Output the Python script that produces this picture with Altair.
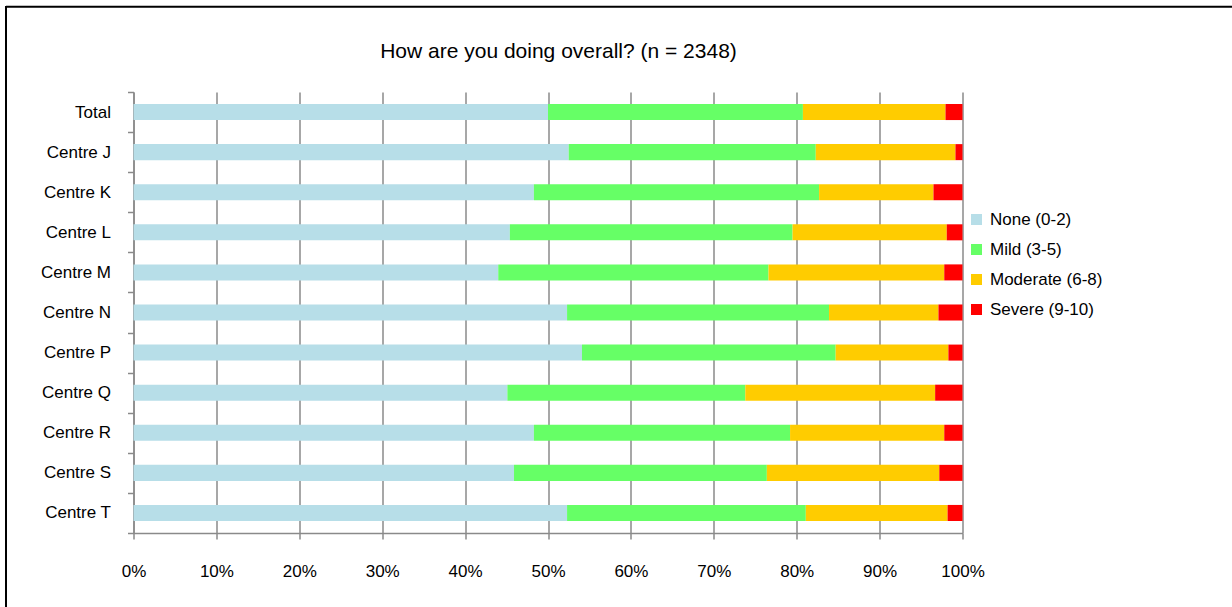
import altair as alt
import pandas as pd

TITLE = "How are you doing overall? (n = 2348)"
categories = ["Total", "Centre J", "Centre K", "Centre L", "Centre M", "Centre N",
              "Centre P", "Centre Q", "Centre R", "Centre S", "Centre T"]
series = ["None (0-2)", "Mild (3-5)", "Moderate (6-8)", "Severe (9-10)"]
colors = ["#B7DEE8", "#66FF66", "#FFCC00", "#FF0000"]

none_vals = [50.0, 52.5, 48.3, 45.4, 44.0, 52.3, 54.1, 45.1, 48.3, 45.9, 52.3]
mild_vals = [30.75, 29.8, 34.4, 34.1, 32.6, 31.6, 30.6, 28.7, 30.9, 30.5, 28.8]
moderate_vals = [17.2, 16.85, 13.8, 18.6, 21.2, 13.2, 13.6, 22.9, 18.6, 20.8, 17.1]
severe_vals = [2.05, 0.85, 3.5, 1.9, 2.2, 2.9, 1.7, 3.3, 2.2, 2.8, 1.8]

x_ticks = [0, 0.1, 0.2, 0.3, 0.4, 0.5, 0.6, 0.7, 0.8, 0.9, 1.0]

rows = []
for s_i, (s, vals) in enumerate(zip(series, [none_vals, mild_vals, moderate_vals, severe_vals])):
    for c, v in zip(categories, vals):
        rows.append({"category": c, "series": s, "value": v, "order": s_i})
df = pd.DataFrame(rows)

FONT = "Liberation Sans"
GRID = "#8a8a8a"
W, H = 829, 441

bars = alt.Chart(df).mark_bar(height=alt.RelativeBandSize(0.4)).encode(
    x=alt.X(
        "value:Q", stack="normalize",
        scale=alt.Scale(domain=[0, 1], nice=False),
        axis=alt.Axis(values=x_ticks, format=".0%", title=None, grid=True,
                      gridColor=GRID, gridWidth=1.5, domainColor=GRID, domainWidth=1.5,
                      tickColor=GRID, tickWidth=1.5, tickSize=6, labelPadding=24,
                      labelFlush=False, labelFontSize=17, labelColor="black",
                      labelFont=FONT),
    ),
    y=alt.Y(
        "category:N", sort=categories,
        scale=alt.Scale(paddingInner=0, paddingOuter=0),
        axis=alt.Axis(title=None, tickBand="extent", domainColor=GRID, domainWidth=1.5,
                      tickColor=GRID, tickWidth=1.5, tickSize=6, labelPadding=17,
                      labelFontSize=17, labelColor="black", labelFont=FONT),
    ),
    color=alt.Color(
        "series:N",
        scale=alt.Scale(domain=series, range=colors),
        legend=alt.Legend(title=None, orient="none", legendX=834.5, legendY=119,
                          symbolType="square", symbolSize=121, symbolStrokeWidth=0,
                          labelFontSize=17, labelColor="black", labelFont=FONT,
                          labelOffset=5, rowPadding=12, padding=0),
    ),
    order=alt.Order("order:Q"),
)

title_text = alt.Chart(pd.DataFrame({"t": [TITLE]})).mark_text(
    fontSize=21, font=FONT, color="black", align="center", baseline="middle"
).encode(text="t:N", x=alt.value(425), y=alt.value(-40))

frame_df = pd.DataFrame({"f": [0]})
frame_top = alt.Chart(frame_df).mark_rule(color="black", strokeWidth=2).encode(
    x=alt.value(-127.5), x2=alt.value(1100), y=alt.value(-85.3)
)
frame_left = alt.Chart(frame_df).mark_rule(color="black", strokeWidth=2).encode(
    x=alt.value(-127.5), y=alt.value(-86), y2=alt.value(520)
)

chart = alt.layer(bars, title_text, frame_top, frame_left).properties(
    width=W, height=H,
    autosize=alt.AutoSizeParams(type="none"),
    padding={"left": 133.5, "top": 92, "right": 269.5, "bottom": 74},
).configure(font=FONT).configure_view(stroke="transparent")

chart.save("out.html", embed_options={"renderer": "svg", "actions": False})
